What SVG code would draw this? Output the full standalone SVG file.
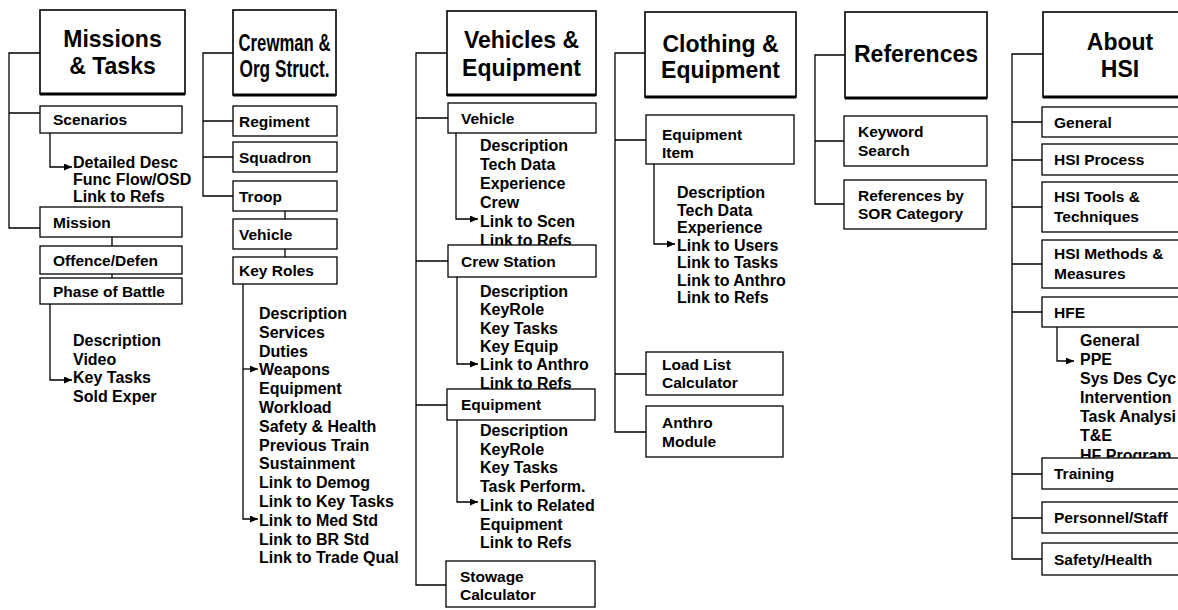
<svg xmlns="http://www.w3.org/2000/svg" width="1178" height="610" viewBox="0 0 1178 610">
<style>
.hdr{fill:#fff;stroke:#000;stroke-width:1.6}
.hb{stroke:#000;stroke-width:3}
.box{fill:#fff;stroke:#000;stroke-width:1.3}
.ln{fill:none;stroke:#000;stroke-width:1.3}
.ht{font-family:"Liberation Sans",Arial,sans-serif;font-weight:bold;font-size:23px;text-anchor:middle;fill:#000}
.bt{font-family:"Liberation Sans",Arial,sans-serif;font-weight:bold;font-size:15.5px;fill:#000}
.st{font-family:"Liberation Sans",Arial,sans-serif;font-weight:bold;font-size:16px;fill:#000}
</style>
<defs>
<marker id="ah" markerUnits="userSpaceOnUse" markerWidth="8" markerHeight="7" refX="8" refY="3.5" orient="auto">
<path d="M0,0 L8,3.5 L0,7 z" fill="#000"/>
</marker>
</defs>
<rect width="1178" height="610" fill="#fff"/>
<g id="connectors">
<!-- col 1 -->
<path class="ln" d="M40,53 H9 V228 H40 M9,113 H40"/>
<path class="ln" d="M112,237 V246 M112,274 V278"/>
<path class="ln" d="M50,133 V167 H72" marker-end="url(#ah)"/>
<path class="ln" d="M50,304 V380 H72" marker-end="url(#ah)"/>
<!-- col 2 -->
<path class="ln" d="M233,53 H203 V196 H233 M203,121 H233 M203,157 H233"/>
<path class="ln" d="M285,211 V219 M285,249 V257"/>
<path class="ln" d="M243,284 V519 H258" marker-end="url(#ah)"/>
<path class="ln" d="M243,369 H258" marker-end="url(#ah)"/>
<!-- col 3 -->
<path class="ln" d="M447,53 H416 V585 H446 M416,118 H448 M416,261 H448 M416,405 H447"/>
<path class="ln" d="M456,133 V219 H478" marker-end="url(#ah)"/>
<path class="ln" d="M457,277 V364 H478" marker-end="url(#ah)"/>
<path class="ln" d="M457,420 V502 H478" marker-end="url(#ah)"/>
<!-- col 4 -->
<path class="ln" d="M645,53 H615 V432 H646 M615,140 H646 M615,374 H646"/>
<path class="ln" d="M654,164 V244 H675" marker-end="url(#ah)"/>
<!-- col 5 -->
<path class="ln" d="M845,55 H815 V204 H844 M815,141 H844"/>
<!-- col 6 -->
<path class="ln" d="M1043,54 H1012 V559 H1042 M1012,122 H1042 M1012,160 H1042 M1012,207 H1042 M1012,264 H1042 M1012,312 H1042 M1012,474 H1042 M1012,518 H1042"/>
<path class="ln" d="M1057,327 V361 H1074" marker-end="url(#ah)"/>
</g>

<!-- Column 1 -->
<g id="missions">
<rect class="hdr" x="40" y="10" width="145" height="84"/>
<line class="hb" x1="40" y1="94" x2="185" y2="94"/>
<text class="ht" x="112.5" y="47">Missions</text>
<text class="ht" x="112.5" y="74">&amp; Tasks</text>
</g>
<g id="scenarios">
<rect class="box" x="40" y="106" width="142" height="27"/>
<text class="bt" x="53" y="125">Scenarios</text>
<text class="st" x="73" y="168">Detailed Desc</text>
<text class="st" x="73" y="185">Func Flow/OSD</text>
<text class="st" x="73" y="202">Link to Refs</text>
</g>
<g id="mission">
<rect class="box" x="40" y="207" width="142" height="30"/>
<text class="bt" x="53" y="227.5">Mission</text>
</g>
<g id="offence">
<rect class="box" x="40" y="246" width="142" height="28"/>
<text class="bt" x="53" y="265.5">Offence/Defen</text>
</g>
<g id="phase">
<rect class="box" x="40" y="278" width="142" height="26"/>
<text class="bt" x="53" y="296.5">Phase of Battle</text>
<text class="st" x="73" y="346">Description</text>
<text class="st" x="73" y="364.5">Video</text>
<text class="st" x="73" y="383">Key Tasks</text>
<text class="st" x="73" y="401.5">Sold Exper</text>
</g>

<!-- Column 2 -->
<g id="crewman">
<rect class="hdr" x="233" y="10" width="103" height="85"/>
<line class="hb" x1="233" y1="95" x2="336" y2="95"/>
<text class="ht" x="284.5" y="51" font-size="22" textLength="92" lengthAdjust="spacingAndGlyphs">Crewman &amp;</text>
<text class="ht" x="284.5" y="77" font-size="22" textLength="90" lengthAdjust="spacingAndGlyphs">Org Struct.</text>
</g>
<g id="regiment">
<rect class="box" x="233" y="106" width="104" height="30"/>
<text class="bt" x="239" y="126.5">Regiment</text>
</g>
<g id="squadron">
<rect class="box" x="233" y="142" width="104" height="30"/>
<text class="bt" x="239" y="162.5">Squadron</text>
</g>
<g id="troop">
<rect class="box" x="233" y="181" width="104" height="30"/>
<text class="bt" x="239" y="201.5">Troop</text>
</g>
<g id="vehicle2">
<rect class="box" x="233" y="219" width="104" height="30"/>
<text class="bt" x="239" y="239.5">Vehicle</text>
</g>
<g id="keyroles">
<rect class="box" x="233" y="257" width="104" height="27"/>
<text class="bt" x="239" y="276">Key Roles</text>
<text class="st" x="259" y="319">Description</text>
<text class="st" x="259" y="337.8">Services</text>
<text class="st" x="259" y="356.6">Duties</text>
<text class="st" x="259" y="375.4">Weapons</text>
<text class="st" x="259" y="394.2">Equipment</text>
<text class="st" x="259" y="413">Workload</text>
<text class="st" x="259" y="431.8">Safety &amp; Health</text>
<text class="st" x="259" y="450.6">Previous Train</text>
<text class="st" x="259" y="469.4">Sustainment</text>
<text class="st" x="259" y="488.2">Link to Demog</text>
<text class="st" x="259" y="507">Link to Key Tasks</text>
<text class="st" x="259" y="525.8">Link to Med Std</text>
<text class="st" x="259" y="544.6">Link to BR Std</text>
<text class="st" x="259" y="563.4">Link to Trade Qual</text>
</g>

<!-- Column 3 -->
<g id="vehicles">
<rect class="hdr" x="447" y="11" width="149" height="84"/>
<line class="hb" x1="447" y1="95" x2="596" y2="95"/>
<text class="ht" x="521.5" y="48">Vehicles &amp;</text>
<text class="ht" x="521.5" y="76">Equipment</text>
</g>
<g id="vehicle3">
<rect class="box" x="448" y="103" width="148" height="30"/>
<text class="bt" x="461" y="123.5">Vehicle</text>
<text class="st" x="480" y="151">Description</text>
<text class="st" x="480" y="169.9">Tech Data</text>
<text class="st" x="480" y="188.8">Experience</text>
<text class="st" x="480" y="207.7">Crew</text>
<text class="st" x="480" y="226.6">Link to Scen</text>
<text class="st" x="480" y="245.5">Link to Refs</text>
</g>
<g id="crewstation">
<rect class="box" x="448" y="245" width="148" height="32"/>
<text class="bt" x="461" y="266.5">Crew Station</text>
<text class="st" x="480" y="297">Description</text>
<text class="st" x="480" y="315.3">KeyRole</text>
<text class="st" x="480" y="333.6">Key Tasks</text>
<text class="st" x="480" y="351.9">Key Equip</text>
<text class="st" x="480" y="370.2">Link to Anthro</text>
<text class="st" x="480" y="388.5">Link to Refs</text>
</g>
<g id="equipment3">
<rect class="box" x="447" y="389" width="148" height="31"/>
<text class="bt" x="461" y="410">Equipment</text>
<text class="st" x="480" y="436">Description</text>
<text class="st" x="480" y="454.7">KeyRole</text>
<text class="st" x="480" y="473.4">Key Tasks</text>
<text class="st" x="480" y="492.1">Task Perform.</text>
<text class="st" x="480" y="510.8">Link to Related</text>
<text class="st" x="480" y="529.5">Equipment</text>
<text class="st" x="480" y="548.2">Link to Refs</text>
</g>
<g id="stowage">
<rect class="box" x="446" y="561" width="149" height="46"/>
<text class="bt" x="460" y="582">Stowage</text>
<text class="bt" x="460" y="600">Calculator</text>
</g>

<!-- Column 4 -->
<g id="clothing">
<rect class="hdr" x="645" y="12" width="151" height="85"/>
<line class="hb" x1="645" y1="97" x2="796" y2="97"/>
<text class="ht" x="720.5" y="52">Clothing &amp;</text>
<text class="ht" x="720.5" y="78">Equipment</text>
</g>
<g id="equipitem">
<rect class="box" x="646" y="115" width="148" height="49"/>
<text class="bt" x="662" y="140">Equipment</text>
<text class="bt" x="662" y="158">Item</text>
<text class="st" x="677" y="198">Description</text>
<text class="st" x="677" y="215.5">Tech Data</text>
<text class="st" x="677" y="233">Experience</text>
<text class="st" x="677" y="250.5">Link to Users</text>
<text class="st" x="677" y="268">Link to Tasks</text>
<text class="st" x="677" y="285.5">Link to Anthro</text>
<text class="st" x="677" y="303">Link to Refs</text>
</g>
<g id="loadlist">
<rect class="box" x="646" y="352" width="137" height="43"/>
<text class="bt" x="662" y="370">Load List</text>
<text class="bt" x="662" y="388">Calculator</text>
</g>
<g id="anthro">
<rect class="box" x="646" y="406" width="137" height="51"/>
<text class="bt" x="662" y="428">Anthro</text>
<text class="bt" x="662" y="447">Module</text>
</g>

<!-- Column 5 -->
<g id="references">
<rect class="hdr" x="845" y="12" width="142" height="86"/>
<line class="hb" x1="845" y1="98" x2="987" y2="98"/>
<text class="ht" x="916" y="62">References</text>
</g>
<g id="keyword">
<rect class="box" x="844" y="116" width="143" height="50"/>
<text class="bt" x="858" y="137">Keyword</text>
<text class="bt" x="858" y="156">Search</text>
</g>
<g id="sor">
<rect class="box" x="844" y="180" width="142" height="49"/>
<text class="bt" x="858" y="201">References by</text>
<text class="bt" x="858" y="219">SOR Category</text>
</g>

<!-- Column 6 -->
<g id="abouthsi">
<rect class="hdr" x="1043" y="12" width="154" height="85"/>
<line class="hb" x1="1043" y1="97" x2="1197" y2="97"/>
<text class="ht" x="1120" y="50">About</text>
<text class="ht" x="1120" y="77">HSI</text>
</g>
<g id="general">
<rect class="box" x="1042" y="107" width="155" height="30"/>
<text class="bt" x="1054" y="127.5">General</text>
</g>
<g id="hsiprocess">
<rect class="box" x="1042" y="144" width="155" height="31"/>
<text class="bt" x="1054" y="165">HSI Process</text>
</g>
<g id="hsitools">
<rect class="box" x="1042" y="182" width="155" height="50"/>
<text class="bt" x="1054" y="202">HSI Tools &amp;</text>
<text class="bt" x="1054" y="222">Techniques</text>
</g>
<g id="hsimethods">
<rect class="box" x="1042" y="240" width="155" height="48"/>
<text class="bt" x="1054" y="259">HSI Methods &amp;</text>
<text class="bt" x="1054" y="279">Measures</text>
</g>
<g id="hfe">
<rect class="box" x="1042" y="297" width="155" height="30"/>
<text class="bt" x="1054" y="317.5">HFE</text>
<text class="st" x="1080" y="346">General</text>
<text class="st" x="1080" y="364.9">PPE</text>
<text class="st" x="1080" y="383.8">Sys Des Cyc</text>
<text class="st" x="1080" y="402.7">Intervention</text>
<text class="st" x="1080" y="421.6">Task Analysi</text>
<text class="st" x="1080" y="440.5">T&amp;E</text>
<text class="st" x="1080" y="461">HF Program</text>
</g>
<g id="training">
<rect class="box" x="1042" y="458" width="155" height="31"/>
<text class="bt" x="1054" y="479">Training</text>
</g>
<g id="personnel">
<rect class="box" x="1042" y="502" width="155" height="31"/>
<text class="bt" x="1054" y="523">Personnel/Staff</text>
</g>
<g id="safety">
<rect class="box" x="1042" y="543" width="155" height="32"/>
<text class="bt" x="1054" y="564.5">Safety/Health</text>
</g>
</svg>
